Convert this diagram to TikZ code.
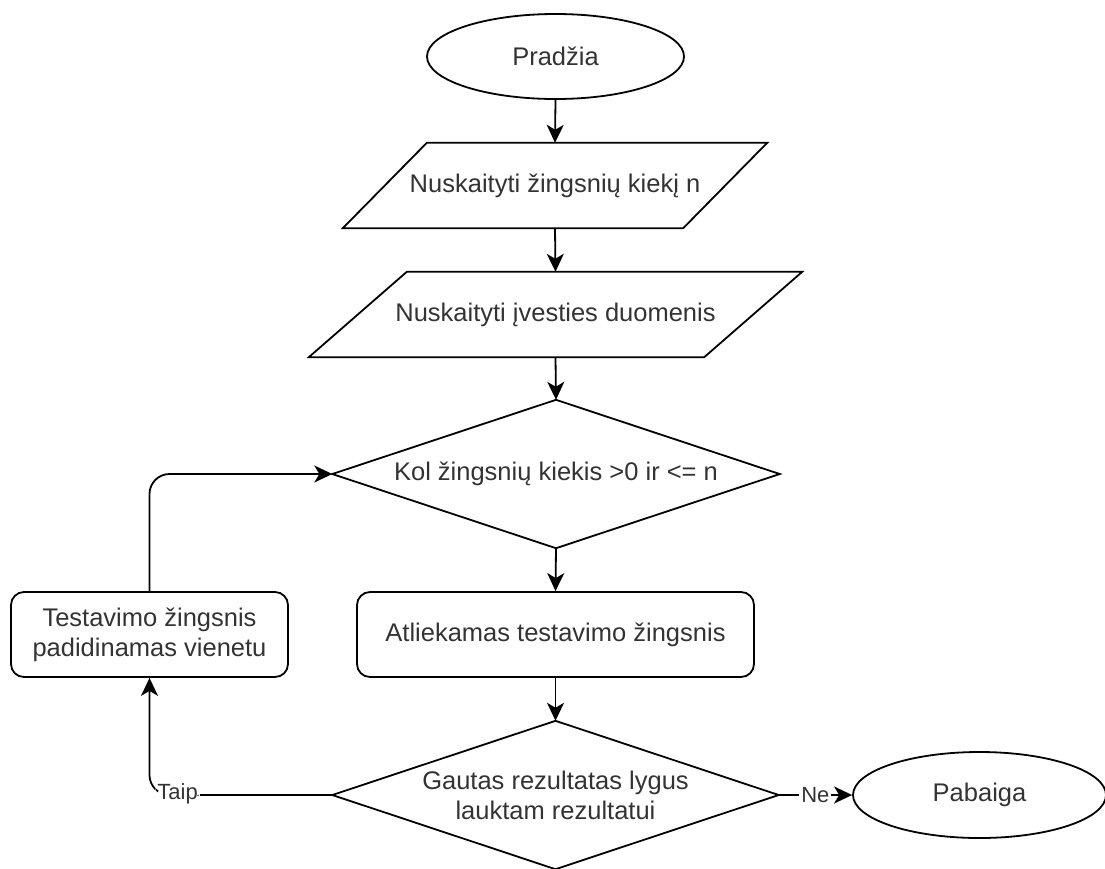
\documentclass[tikz,border=0pt]{standalone}
\usepackage{fontspec}
\setmainfont{Liberation Sans}
\usetikzlibrary{shapes.geometric,arrows.meta}
\tikzset{
  base/.style={inner sep=0pt, font=\fontsize{25.5pt}{30pt}\selectfont, text=black!80, align=center},
  term/.style={base, ellipse, draw, line width=1.8pt},
  box/.style={base, rectangle, draw=none},
  proc/.style={base, rectangle, draw, rounded corners=13pt, line width=1.8pt},
  shapeline/.style={draw, line width=1.8pt, line join=miter},
  conn/.style={draw, line width=1.8pt, -{Stealth[length=18pt,width=17pt,inset=5pt]}},
  lbl/.style={fill=white, inner sep=2pt, font=\fontsize{22pt}{26pt}\selectfont, text=black!80}
}
\begin{document}
\begin{tikzpicture}[x=1pt,y=-1pt]
\useasboundingbox (0,0) rectangle (1105,868);
\node[term, minimum width=257pt, minimum height=85pt] (start) at (555.5,56.5) {Pradžia};
\node[box, minimum width=424pt, minimum height=85pt] (p1) at (555,185.5) {Nuskaityti žingsnių kiekį n};
\node[box, minimum width=493pt, minimum height=85pt] (p2) at (555.5,314.5) {Nuskaityti įvesties duomenis};
\node[box, minimum width=447pt, minimum height=148pt] (d1) at (556,474) {Kol žingsnių kiekis >0 ir <= n};
\node[proc, minimum width=397pt, minimum height=85pt] (a) at (555.5,634.5) {Atliekamas testavimo žingsnis};
\node[box, minimum width=446pt, minimum height=148pt] (d2) at (555.5,795) {Gautas rezultatas lygus\\lauktam rezultatui};
\node[term, minimum width=253pt, minimum height=86pt] (e) at (979.5,795) {Pabaiga};
\node[proc, minimum width=277pt, minimum height=85pt] (t) at (149.5,634.5) {Testavimo žingsnis\\padidinamas vienetu};
% shapes
\path[shapeline] ([xshift=84pt]p1.north west) -- (p1.north east) -- ([xshift=-84pt]p1.south east) -- (p1.south west) -- cycle;
\path[shapeline] ([xshift=98pt]p2.north west) -- (p2.north east) -- ([xshift=-98pt]p2.south east) -- (p2.south west) -- cycle;
\path[shapeline] (d1.north) -- (d1.east) -- (d1.south) -- (d1.west) -- cycle;
\path[shapeline] (d2.north) -- (d2.east) -- (d2.south) -- (d2.west) -- cycle;
% connectors
\path[conn] (start.south) -- (p1.north);
\path[conn] (p1.south) -- (p2.north);
\path[conn] (p2.south) -- (d1.north);
\path[conn] (d1.south) -- (a.north);
\path[conn] (a.south) -- (d2.north);
\path[conn] (d2.east) -- node[lbl] {Ne} (e.west);
\path[conn, rounded corners=20pt] (d2.west) -| node[lbl, pos=0.5, anchor=west, xshift=5pt, yshift=1pt] {Taip} (t.south);
\path[conn, rounded corners=20pt] (t.north) |- (d1.west);
\end{tikzpicture}
\end{document}
